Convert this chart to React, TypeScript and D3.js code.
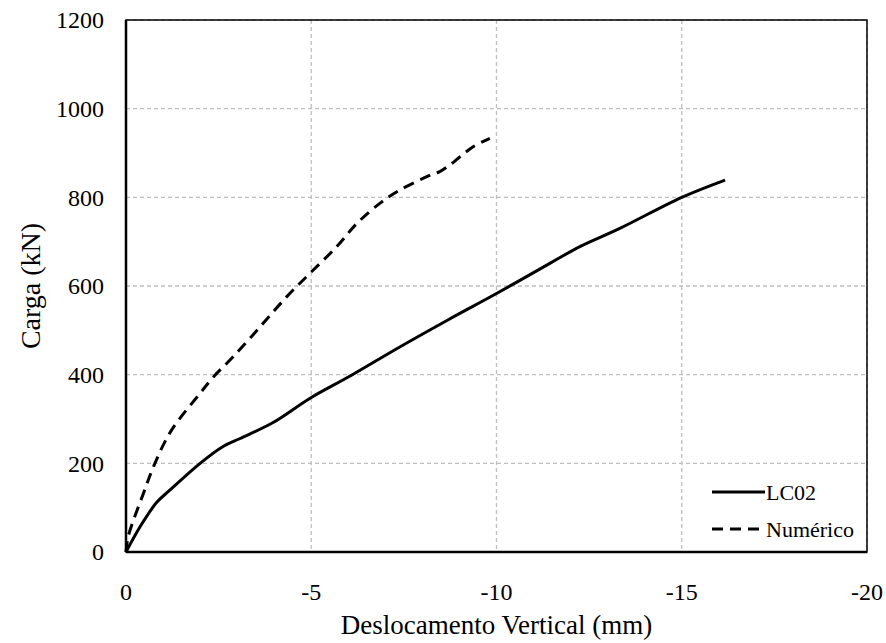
import React from "react";
import * as d3 from "d3";

const lc02X = [0, -0.38, -0.83, -1.19, -2.0, -2.62, -3.08, -3.97, -4.97, -6.05, -7.4, -8.7, -10.0, -11.44, -12.25, -13.33, -15.0, -16.17];
const lc02Y = [0, 57, 112, 140, 200, 238, 256, 292, 347, 397, 463, 524, 583, 651, 689, 730, 800, 839];

const numX = [0, -0.06, -0.47, -0.78, -1.23, -2.0, -2.36, -2.9, -3.62, -4.34, -4.97, -5.69, -6.23, -6.86, -7.4, -8.3, -8.47, -8.74, -9.37, -9.82];
const numY = [0, 35, 132, 200, 275, 358, 395, 441, 508, 576, 629, 689, 741, 787, 817, 853, 858, 873, 914, 933];

const xTicks = [0, -5, -10, -15, -20];
const yTicks = [0, 200, 400, 600, 800, 1000, 1200];
const xTickLabels = ["0", "-5", "-10", "-15", "-20"];
const seriesNames = ["LC02", "Numérico"];

const W = 886, H = 643;
const left = 126, right = 867, top = 20, bottom = 552;
const font = "Liberation Serif, Times New Roman, DejaVu Serif, serif";

export default function App() {
  const x = d3.scaleLinear().domain([0, -20]).range([left, right]);
  const y = d3.scaleLinear().domain([0, 1200]).range([bottom, top]);
  const line = d3.line<[number, number]>().x(d => x(d[0])).y(d => y(d[1])).curve(d3.curveCatmullRom.alpha(0.5));
  const lc02 = lc02X.map((v, i) => [v, lc02Y[i]] as [number, number]);
  const num = numX.map((v, i) => [v, numY[i]] as [number, number]);
  const ts = { fontFamily: font };
  return (
    <svg width={W} height={H} style={{ position: "absolute", left: 0, top: 0, fontFamily: font }}>
      <rect x={0} y={0} width={W} height={H} fill="#fff" />
      {yTicks.filter(t => t > 0).map(t => (
        <line key={"gy" + t} x1={left} x2={right} y1={y(t)} y2={y(t)} stroke="#bfbfbf" strokeWidth={1.3} strokeDasharray="4,3" />
      ))}
      {xTicks.filter(t => t !== 0).map(t => (
        <line key={"gx" + t} x1={x(t)} x2={x(t)} y1={top} y2={bottom} stroke="#bfbfbf" strokeWidth={1.3} strokeDasharray="4,3" />
      ))}
      <rect x={left} y={top} width={right - left} height={bottom - top} fill="none" stroke="#000" strokeWidth={1.5} />
      <line x1={left} x2={left} y1={top} y2={bottom} stroke="#000" strokeWidth={2.5} />
      <line x1={left} x2={right} y1={bottom} y2={bottom} stroke="#000" strokeWidth={2.5} />
      <path d={line(lc02) || ""} fill="none" stroke="#000" strokeWidth={3} />
      <path d={line(num) || ""} fill="none" stroke="#000" strokeWidth={3} strokeDasharray="11,7" />
      {yTicks.map(t => (
        <text key={"ty" + t} style={ts} x={104} y={y(t)} dy="0.35em" textAnchor="end" fontSize={24}>{t}</text>
      ))}
      {xTicks.map((t, i) => (
        <text key={"tx" + t} style={ts} x={x(t)} y={592} dy="0.35em" textAnchor="middle" fontSize={24}>{xTickLabels[i]}</text>
      ))}
      <text style={ts} x={(left + right) / 2} y={625} dy="0.35em" textAnchor="middle" fontSize={27}>Deslocamento Vertical (mm)</text>
      <text style={ts} transform={`translate(30,${(top + bottom) / 2}) rotate(-90)`} dy="0.35em" textAnchor="middle" fontSize={28}>Carga (kN)</text>
      <line x1={712} x2={765} y1={492} y2={492} stroke="#000" strokeWidth={3} />
      <text style={ts} x={766} y={492} dy="0.35em" fontSize={22}>{seriesNames[0]}</text>
      <line x1={712} x2={765} y1={529} y2={529} stroke="#000" strokeWidth={3} strokeDasharray="11,7" />
      <text style={ts} x={766} y={529} dy="0.35em" fontSize={22}>{seriesNames[1]}</text>
    </svg>
  );
}
